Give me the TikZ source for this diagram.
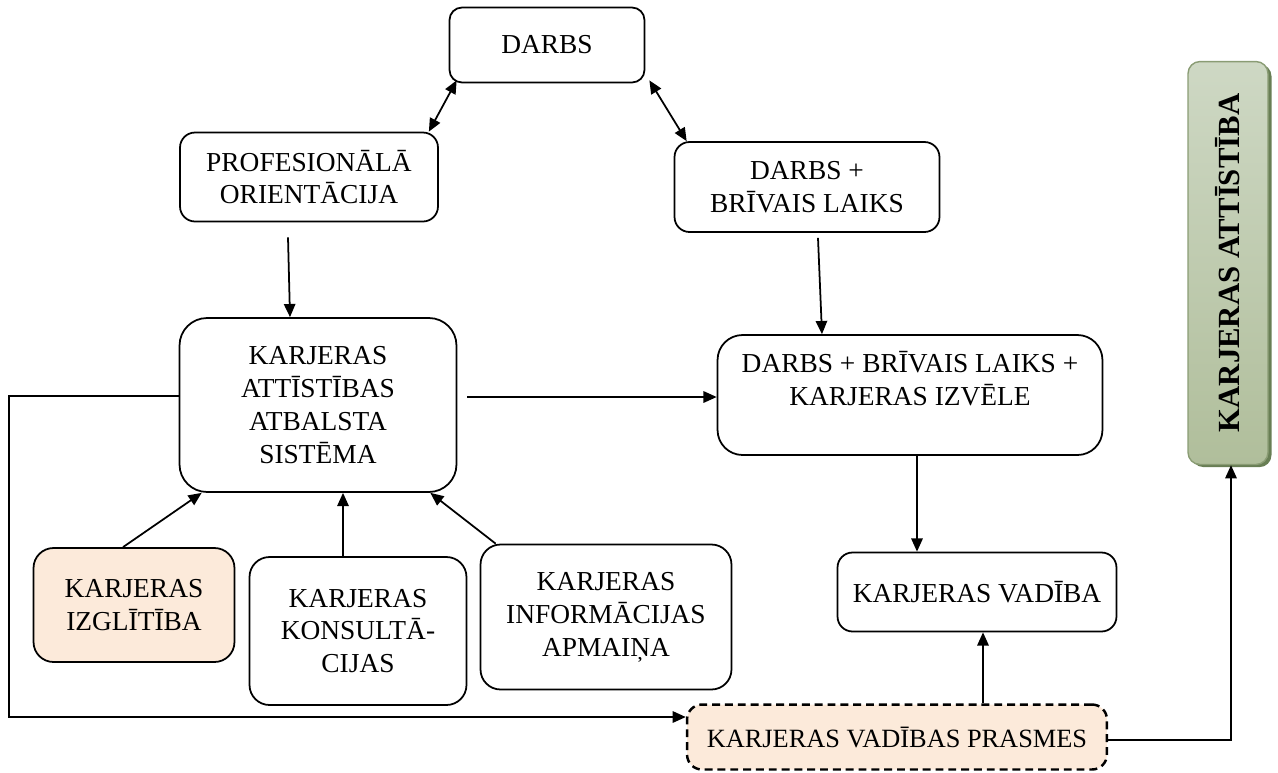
\documentclass[tikz,border=0pt]{standalone}
\usepackage{fontspec}
\setmainfont{Liberation Serif}
\usepackage{tikz}
\usetikzlibrary{positioning,arrows.meta,calc,shadows}
\definecolor{peach}{RGB}{252,234,218}
\definecolor{sagetop}{RGB}{206,216,196}
\definecolor{sagebot}{RGB}{176,190,155}
\definecolor{sageline}{RGB}{138,156,116}
\definecolor{sagedark}{RGB}{104,126,84}

\begin{document}
\begin{tikzpicture}[x=0.02cm, y=-0.02cm,
  box/.style={rectangle, draw, line width=1pt, rounded corners=#1,
              font=\fontsize{15.6}{18.7}\selectfont, align=center, inner sep=2pt},
  box/.default=0.3cm,
  skill/.style={box=0.3cm, fill=peach, font=\fontsize{15}{18.7}\selectfont},
  dsh/.style={dashed, dash pattern=on 4.5pt off 2.8pt, line width=1.4pt},
  vert/.style={rectangle, draw=sageline, line width=0.8pt, rounded corners=0.24cm,
               top color=sagetop, bottom color=sagebot,
               drop shadow={shadow xshift=2pt, shadow yshift=-1.5pt, fill=sagedark, opacity=1},
               font=\fontsize{17.5}{20}\selectfont\bfseries, align=center},
  ar/.style={-{Triangle[length=7.5pt, width=6.5pt]}, line width=1pt},
  dar/.style={{Triangle[length=7.5pt, width=6.5pt]}-{Triangle[length=7.5pt, width=6.5pt]}, line width=1pt},
]
\useasboundingbox (0,0) rectangle (1278,772);

% top row
\node[box=0.25cm, minimum width=3.9cm, minimum height=1.5cm] (darbs) at (547,45) {DARBS};
\node[box, minimum width=5.16cm, minimum height=1.78cm] (prof) at (309,177)
    {PROFESIONĀLĀ\\ORIENTĀCIJA};
\node[box, minimum width=5.3cm, minimum height=1.8cm] (dbl) at (807,187)
    {DARBS +\\BRĪVAIS LAIKS};

% middle row
\node[box=0.55cm, minimum width=5.54cm, minimum height=3.48cm] (kaas) at (318,405)
    {KARJERAS\\ATTĪSTĪBAS\\ATBALSTA\\SISTĒMA};
\node[box=0.5cm, minimum width=7.7cm, minimum height=2.4cm] (dblki) at (910,395)
    {DARBS + BRĪVAIS LAIKS +\\KARJERAS IZVĒLE\\\mbox{}};

% bottom row
\node[box=0.4cm, fill=peach, minimum width=4.02cm, minimum height=2.28cm] (izgl) at (134,605)
    {KARJERAS\\IZGLĪTĪBA};
\node[box=0.4cm, minimum width=4.34cm, minimum height=2.96cm] (kons) at (358,631)
    {KARJERAS\\KONSULTĀ-\\CIJAS};
\node[box=0.4cm, minimum width=5.02cm, minimum height=2.9cm] (info) at (606,617)
    {KARJERAS\\INFORMĀCIJAS\\APMAIŅA};
\node[box, minimum width=5.58cm, minimum height=1.58cm] (vad) at (977,592)
    {KARJERAS VADĪBA};
\node[skill, dsh, minimum width=8.4cm, minimum height=1.3cm] (prasmes) at (897,737)
    {KARJERAS VADĪBAS PRASMES};

\node[vert, minimum width=1.6cm, minimum height=8.06cm] (att) at (1228,263)
    {\rotatebox{90}{KARJERAS ATTĪSTĪBA}};

% connectors
\draw[dar] ($(darbs.south west)+(8,-3)$) -- ($(prof.north east)+(-10,0)$);
\draw[dar] ($(darbs.south east)+(4,-3)$) -- ($(dbl.north west)+(13,0)$);
\draw[ar] ($(prof.south)+(-21,15)$) -- ($(kaas.north)+(-28,0)$);
\draw[ar] ($(dbl.south)+(11,5)$) -- ($(dblki.north)+(-88,0)$);
\draw[ar] ($(kaas.east)+(10,-8)$) -- ($(dblki.west)+(0,2)$);
\draw[ar] ($(izgl.north)+(-11,0)$) -- ($(kaas.south west)+(23,0)$);
\draw[ar] ($(kons.north)+(-15,0)$) -- ($(kaas.south)+(25,0)$);
\draw[ar] ($(info.north west)+(16,0)$) -- ($(kaas.south east)+(-27,0)$);
\draw[ar] ($(dblki.south)+(7,0)$) -- ($(vad.north)+(-60,0)$);
\draw[ar] ($(prasmes.north)+(86,0)$) -- ($(vad.south)+(6,0)$);
\draw[ar] ($(prasmes.east)+(0,3)$) -| ($(att.south)+(3,0)$);
\draw[ar] ($(kaas.west)+(0,-9)$) -- ++(-170,0) |- ($(prasmes.west)+(0,-20)$);
\end{tikzpicture}
\end{document}
